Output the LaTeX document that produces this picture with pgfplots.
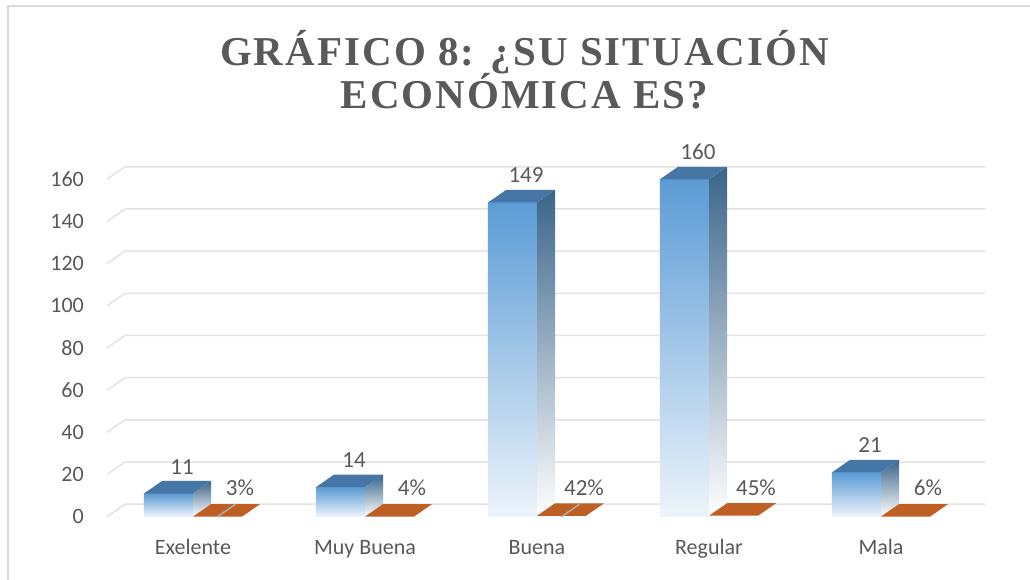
\documentclass[border=0pt]{standalone}
\usepackage{fontspec}
\usepackage{pgfplots}
\usepackage{pgfplotstable}
\pgfplotsset{compat=1.18}
\setmainfont{Carlito}
\newfontfamily\titlefont{Liberation Serif}[LetterSpace=5]
\definecolor{bfront}{HTML}{5B9BD5}
\definecolor{bfade}{HTML}{EDF4FB}
\definecolor{btop}{HTML}{4676A6}
\definecolor{bside}{HTML}{3A6489}
\definecolor{orng}{HTML}{BE5F24}
\definecolor{txtgray}{HTML}{595959}
\definecolor{gridgray}{HTML}{E3E3E3}
\definecolor{framegray}{HTML}{D9D9D9}

\pgfplotstableread{
x cnt pct
0 11  3
1 14  4
2 149 42
3 160 45
4 21  6
}\datatable

% 3D block for the count series (front face, side face, top face)
\newcommand\blueblock[2]{%
 \pgfmathsetmacro\xL{#1-0.285}%
 \pgfmathsetmacro\xR{#1}%
 \pgfmathsetmacro\xRb{#1+0.1047}%
 \pgfmathsetmacro\xLb{#1-0.285+0.1047}%
 \pgfmathsetmacro\yT{#2}%
 \pgfmathsetmacro\yTb{#2+5.93}%
 \edef\doit{%
  \noexpand\addplot[draw=none, top color=bfront, middle color=bfront, bottom color=bfade] coordinates {(\xL,0) (\xR,0) (\xR,\yT) (\xL,\yT)} -- cycle;
  \noexpand\addplot[draw=none, top color=bside, middle color=bside, bottom color=white] coordinates {(\xR,0) (\xRb,5.93) (\xRb,\yTb) (\xR,\yT)} -- cycle;
  \noexpand\addplot[draw=none, fill=btop] coordinates {(\xL,\yT) (\xR,\yT) (\xRb,\yTb) (\xLb,\yTb)} -- cycle;
 }\doit
}
% flat block for the percentage series (value as fraction of 1 on the count axis)
\newcommand\orangeblock[2]{%
 \pgfmathsetmacro\xL{#1}%
 \pgfmathsetmacro\xR{#1+0.285}%
 \pgfmathsetmacro\xRb{#1+0.285+0.1047}%
 \pgfmathsetmacro\xLb{#1+0.1047}%
 \pgfmathsetmacro\yT{#2/100}%
 \pgfmathsetmacro\yTb{#2/100+5.93}%
 \edef\doit{%
  \noexpand\addplot[draw=none, fill=orng] coordinates {(\xL,\yT) (\xR,\yT) (\xRb,\yTb) (\xLb,\yTb)} -- cycle;
 }\doit
}
\newcommand\gridat[1]{%
 \pgfmathsetmacro\gy{#1+5.93}%
 \edef\doit{\noexpand\addplot[gridgray, line width=1.5pt] coordinates {(-0.5,#1) (-0.3953,\gy) (4.6047,\gy)};}\doit
}

\begin{document}
\begin{tikzpicture}
\useasboundingbox (0pt,0pt) rectangle (1030pt,580pt);
\fill[white] (0pt,0pt) rectangle (1030pt,580pt);
\draw[framegray, line width=2pt] (8pt,-20pt) -- (8pt,574pt) -- (1050pt,574pt);
\node[anchor=base, text=txtgray, inner sep=0pt, font=\titlefont\bfseries\fontsize{41}{43}\selectfont] at (524.5pt,514pt) {GRÁFICO 8: ¿SU SITUACIÓN};
\node[anchor=base, text=txtgray, inner sep=0pt, font=\titlefont\bfseries\fontsize{41}{43}\selectfont] at (524.5pt,471pt) {ECONÓMICA ES?};
\begin{axis}[
  at={(107pt,63.3pt)}, anchor=south west,
  scale only axis, width=860pt, height=337.4pt,
  xmin=-0.5, xmax=4.5, ymin=0, ymax=160,
  clip=false,
  axis line style={draw=none},
  major tick length=0pt,
  ytick={0,20,...,160},
  xtick={0,1,2,3,4},
  xticklabels={Exelente,Muy Buena,Buena,Regular,Mala},
  /pgf/number format/assume math mode=true,
  tick label style={font=\fontsize{22}{22}\selectfont, text=txtgray, inner sep=0pt},
  yticklabel style={anchor=east, xshift=-23pt},
  xticklabel style={anchor=base, yshift=-37.5pt},
]
\gridat{0}\gridat{20}\gridat{40}\gridat{60}\gridat{80}\gridat{100}\gridat{120}\gridat{140}\gridat{160}

\blueblock{0}{11}\orangeblock{0}{3}
\blueblock{1}{14}\orangeblock{1}{4}
\blueblock{2}{149}\orangeblock{2}{42}
\blueblock{3}{160}\orangeblock{3}{45}
\blueblock{4}{21}\orangeblock{4}{6}

\draw[gray!65, line width=1.5pt] (axis cs:0.1425,0) -- (axis cs:0.2472,5.93);
\draw[gray!65, line width=1.5pt] (axis cs:2.1425,0) -- (axis cs:2.2472,5.93);

\addplot[draw=none, mark=none, nodes near coords={\pgfplotspointmeta}, point meta=explicit symbolic,
  nodes near coords style={anchor=base, xshift=-11pt, yshift=19.5pt, font=\fontsize{23}{23}\selectfont, text=txtgray, inner sep=0pt}]
  table[x=x, y=cnt, meta=cnt] {\datatable};
\addplot[draw=none, mark=none, nodes near coords={\pgfplotspointmeta\%}, point meta=explicit symbolic,
  nodes near coords style={anchor=base, xshift=47pt, yshift=21.5pt, font=\fontsize{23}{23}\selectfont, text=txtgray, inner sep=0pt}]
  table[x=x, y expr=0, meta=pct] {\datatable};
\end{axis}
\end{tikzpicture}
\end{document}
